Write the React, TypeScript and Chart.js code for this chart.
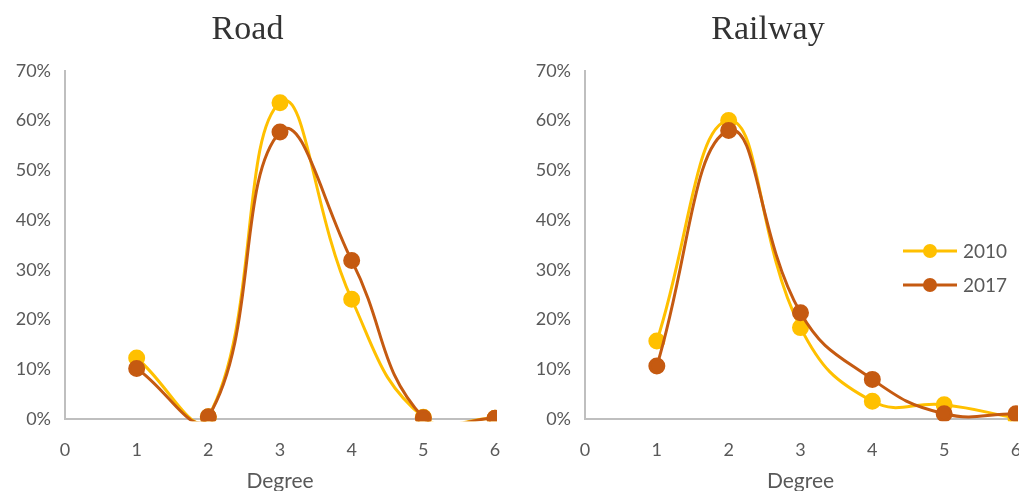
import React, { useEffect, useRef } from "react";
import { Chart, registerables } from "chart.js";

Chart.register(...registerables);

const degrees = [1, 2, 3, 4, 5, 6];
const road2010 = [0.123, 0.005, 0.636, 0.241, 0.004, 0.002];
const road2017 = [0.102, 0.005, 0.577, 0.319, 0.003, 0.002];
const rail2010 = [0.157, 0.6, 0.184, 0.036, 0.029, 0.002];
const rail2017 = [0.107, 0.58, 0.214, 0.08, 0.011, 0.011];
const seriesNames = ["2010", "2017"];
const colors = ["#FFC000", "#C55A11"];
const FONT = "Lato, 'Open Sans', sans-serif";
const TEXT = "#595959";

const legendPlugin = {
  id: "customLegend",
  afterDraw(chart: any, _args: any, opts: any) {
    if (!opts || !opts.show) return;
    const ctx = chart.ctx;
    ctx.save();
    seriesNames.forEach((name, i) => {
      const y = opts.y + i * 34;
      ctx.strokeStyle = colors[i];
      ctx.lineWidth = 3;
      ctx.beginPath();
      ctx.moveTo(opts.x, y);
      ctx.lineTo(opts.x + 54, y);
      ctx.stroke();
      ctx.fillStyle = colors[i];
      ctx.beginPath();
      ctx.arc(opts.x + 27, y, 7, 0, Math.PI * 2);
      ctx.fill();
      ctx.fillStyle = TEXT;
      ctx.font = `19px ${FONT}`;
      ctx.textBaseline = "middle";
      ctx.textAlign = "left";
      ctx.fillText(name, opts.x + 60, y + 1);
    });
    ctx.restore();
  },
};

function makeConfig(title: string, a: number[], b: number[], legend: boolean, padRight: number, yWidth: number): any {
  const ds = (label: string, vals: number[], color: string, order: number) => ({
    label,
    order,
    data: degrees.map((d, i) => ({ x: d, y: vals[i] })),
    borderColor: color,
    backgroundColor: color,
    pointBackgroundColor: color,
    pointBorderColor: color,
    pointRadius: 7,
    borderWidth: 3,
    tension: 0.45,
    capBezierPoints: false,
    clip: 2,
  });
  return {
    type: "line",
    data: { datasets: [ds(seriesNames[0], a, colors[0], 1), ds(seriesNames[1], b, colors[1], 0)] },
    options: {
      animation: false,
      responsive: false,
      events: [],
      layout: { padding: { left: 0, right: padRight, top: 0, bottom: 0 } },
      elements: { line: { capBezierPoints: false } },
      plugins: {
        legend: { display: false },
        tooltip: { enabled: false },
        title: {
          display: true,
          text: title,
          color: "#333333",
          font: { family: "'Liberation Serif', 'Times New Roman', serif", size: 34, weight: "normal" },
          padding: { top: 10, bottom: 20 },
        },
        customLegend: { show: legend, x: 393, y: 251 },
      },
      scales: {
        x: {
          type: "linear",
          min: 0,
          max: 6,
          ticks: { stepSize: 1, color: TEXT, font: { family: FONT, size: 18 }, padding: 20 },
          grid: { drawOnChartArea: false, drawTicks: false },
          border: { display: true, color: "#BFBFBF", width: 2 },
          title: { display: true, text: "Degree", color: TEXT, font: { family: FONT, size: 21 }, padding: { top: -12, bottom: -3 } },
          afterFit: (s: any) => {
            s.paddingRight = 0;
          },
        },
        y: {
          min: 0,
          max: 0.7,
          ticks: {
            stepSize: 0.1,
            color: TEXT,
            font: { family: FONT, size: 18 },
            padding: 14,
            callback: (v: number) => Math.round(v * 100) + "%",
          },
          grid: { drawOnChartArea: false, drawTicks: false },
          border: { display: true, color: "#BFBFBF", width: 2 },
          afterFit: (s: any) => {
            s.width = yWidth;
          },
        },
      },
    },
    plugins: [legendPlugin],
  };
}

function Panel({ title, a, b, legend, width, padRight, yWidth }: any) {
  const ref = useRef<HTMLCanvasElement>(null);
  useEffect(() => {
    const chart = new Chart(ref.current as HTMLCanvasElement, makeConfig(title, a, b, legend, padRight, yWidth));
    return () => chart.destroy();
  }, []);
  return <canvas ref={ref} width={width} height={491} style={{ display: "block", width, height: 491, flex: "none" }} />;
}

export default function App() {
  return (
    <div style={{ position: "fixed", left: 0, top: 0, width: 1019, height: 491, background: "#fff", display: "flex", overflow: "hidden" }}>
      <Panel title="Road" a={road2010} b={road2017} legend={false} width={510} padRight={15} yWidth={65} />
      <Panel title="Railway" a={rail2010} b={rail2017} legend={true} width={516} padRight={0} yWidth={75} />
    </div>
  );
}
